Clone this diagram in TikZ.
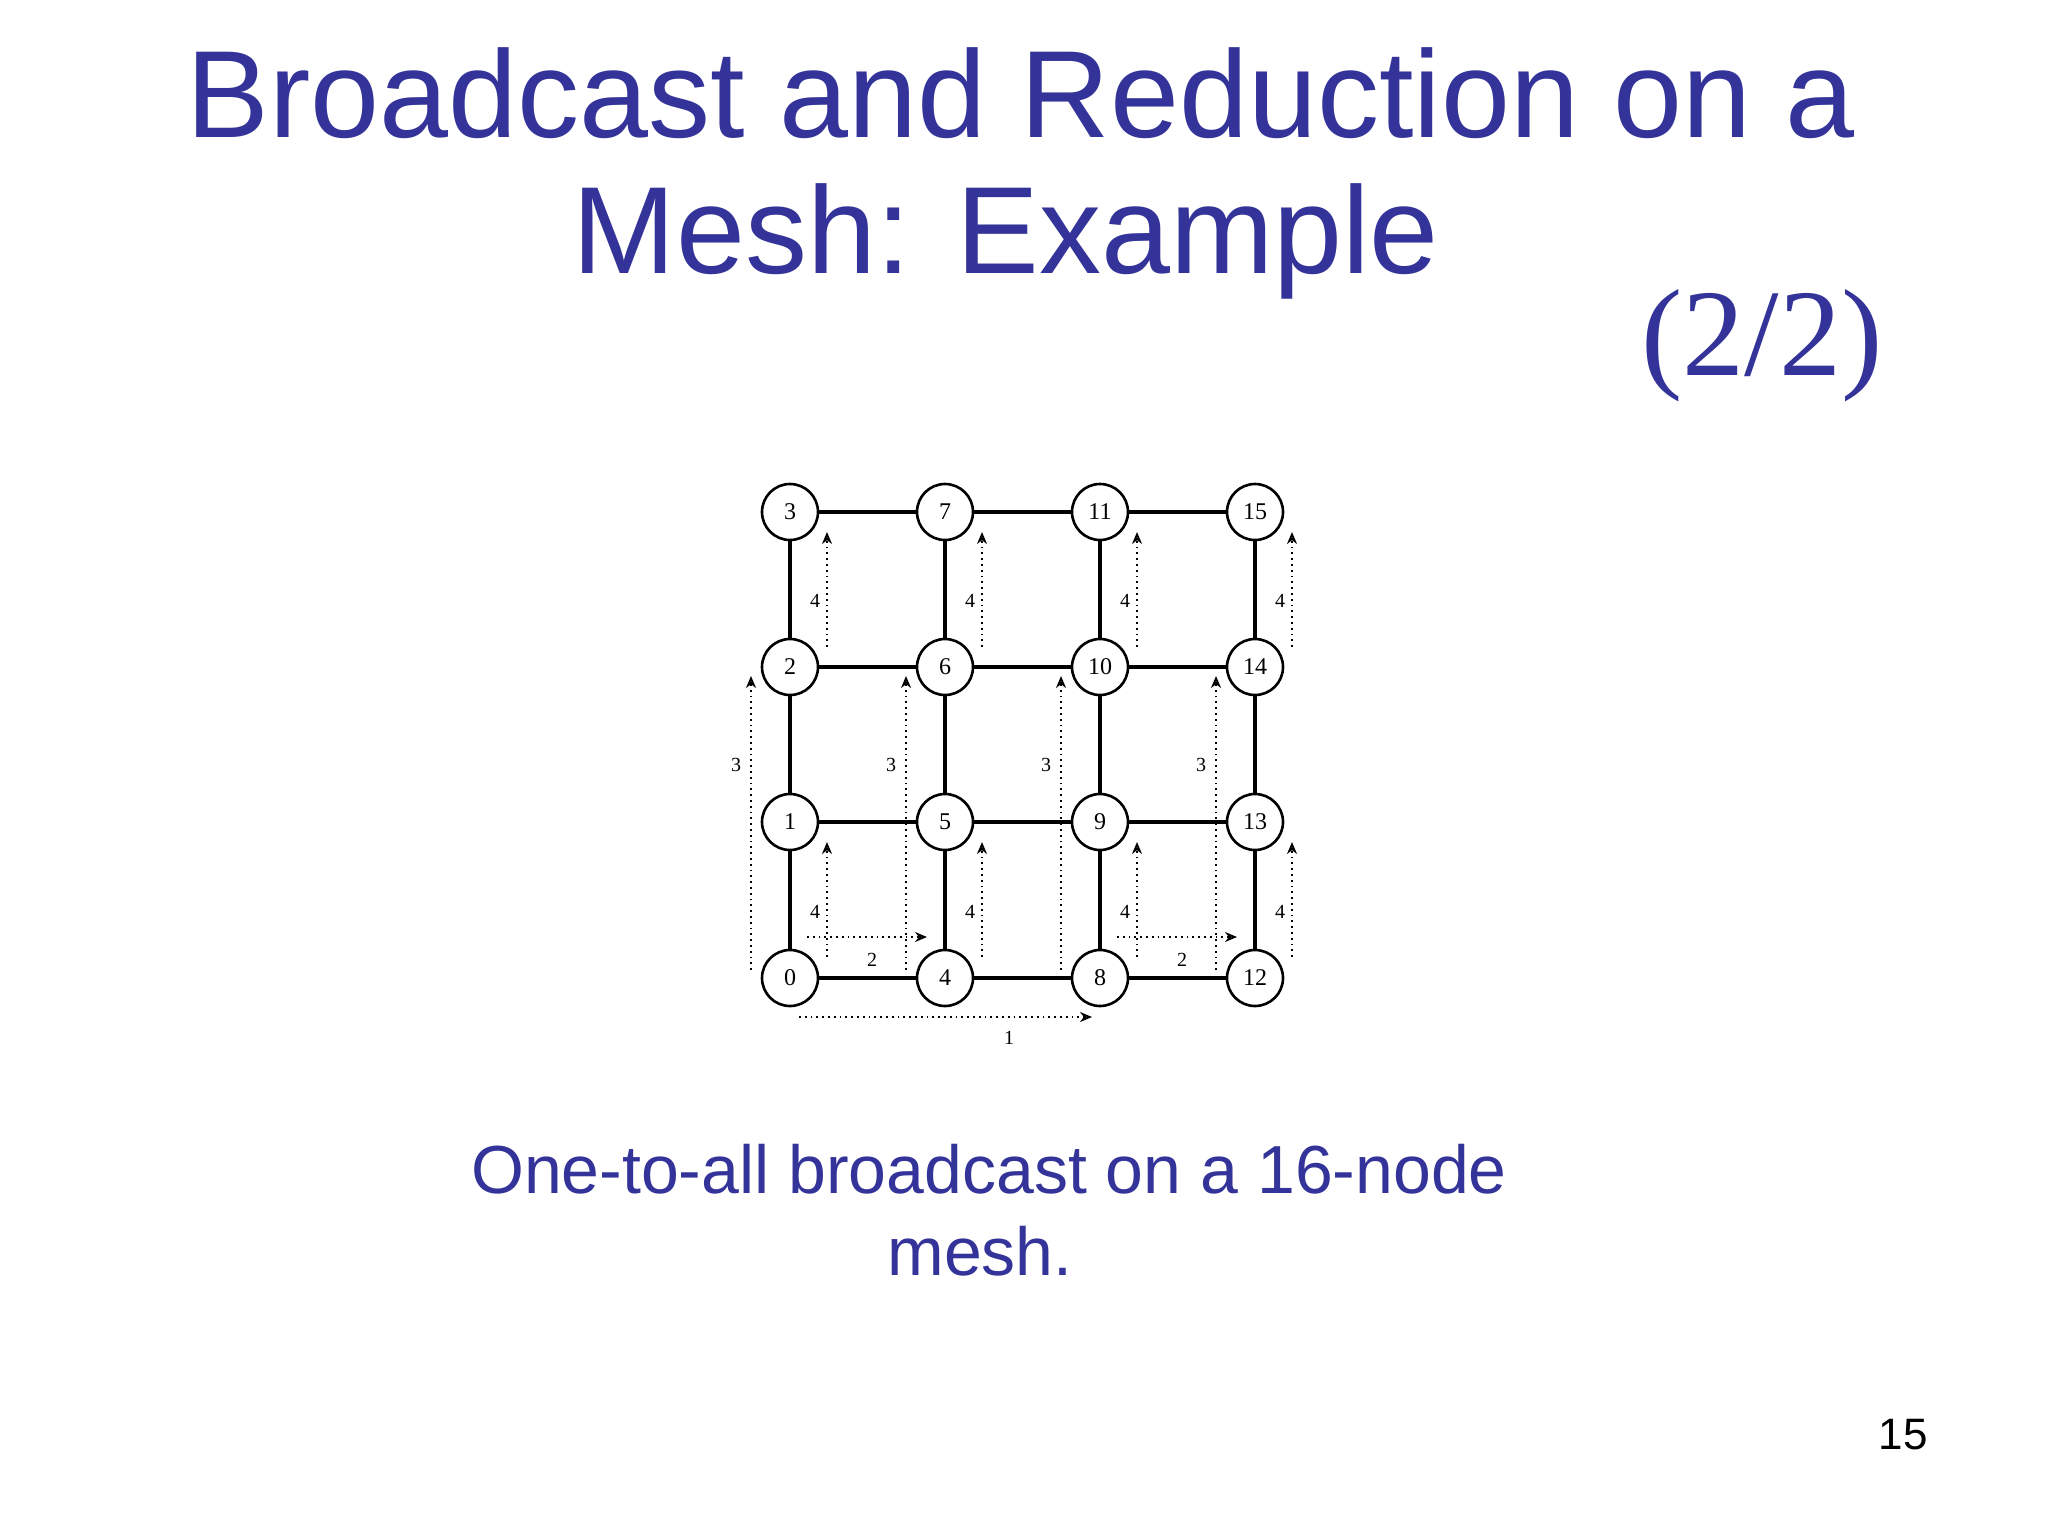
\documentclass[tikz,border=0pt]{standalone}
\usepackage{fontspec}
\setmainfont{Liberation Serif}
\newfontfamily\sansf{Liberation Sans}
\usetikzlibrary{arrows.meta}
\definecolor{ttl}{RGB}{51,51,153}
\tikzset{
  mnode/.style={circle,draw,line width=1.3pt,minimum size=28pt,inner sep=0pt,font=\fontsize{12}{12}\selectfont,fill=white},
  link/.style={line width=1.8pt},
  msg/.style={dotted,line width=0.9pt,-{Stealth[length=6pt,width=5pt,open]}},
  lbl/.style={font=\fontsize{10}{10}\selectfont}
}
\begin{document}
\begin{tikzpicture}[x={(0.5pt,0)},y={(0,-0.5pt)}]
\path[use as bounding box,fill=white] (0,0) rectangle (2048,1536);
\node[ttl,font=\sansf\fontsize{62}{62}\selectfont] (t1) at (1021,93) {Broadcast and Reduction on a};
\node[ttl,font=\sansf\fontsize{62}{62}\selectfont] (t2) at (1006,241) {Mesh: Example};
\node[ttl,font=\fontsize{62}{62}\selectfont] (t3) at (1762,346) {(2/2)};
% nodes
\foreach \c/\x in {0/790,1/945,2/1100,3/1255}{
 \foreach \r/\y in {0/978,1/822,2/667,3/512}{
  \pgfmathtruncatemacro\id{4*\c+\r}
  \node[mnode] (n\id) at (\x,\y) {\id};
 }}
% links
\foreach \c in {0,...,3}{
 \foreach \r/\s in {0/1,1/2,2/3}{
  \pgfmathtruncatemacro\a{4*\c+\r}\pgfmathtruncatemacro\b{4*\c+\s}
  \draw[link] (n\a) -- (n\b);
 }}
\foreach \r in {0,...,3}{
 \foreach \c/\d in {0/1,1/2,2/3}{
  \pgfmathtruncatemacro\a{4*\c+\r}\pgfmathtruncatemacro\b{4*\d+\r}
  \draw[link] (n\a) -- (n\b);
 }}
% messages
\coordinate (s1) at (799,1017); \coordinate (e1) at (1092,1017);
\draw[msg] (s1) -- (e1);
\node[lbl] (l1) at (1009,1038) {1};
\foreach \x/\n in {790/a,1100/b}{
  \coordinate (h\n s) at (\x+17,937); \coordinate (h\n e) at (\x+137,937);
  \draw[msg] (h\n s) -- (h\n e);
  \node[lbl] (h\n l) at (\x+82,960) {2};
}
\foreach \x/\n in {790/a,945/b,1100/c,1255/d}{
  \coordinate (v\n s) at (\x-39,970); \coordinate (v\n e) at (\x-39,676);
  \draw[msg] (v\n s) -- (v\n e);
  \node[lbl] (v\n l) at (\x-54,765) {3};
  \coordinate (p\n s) at (\x+37,957); \coordinate (p\n e) at (\x+37,842);
  \draw[msg] (p\n s) -- (p\n e);
  \node[lbl] (p\n l) at (\x+25,912) {4};
  \coordinate (q\n s) at (\x+37,647); \coordinate (q\n e) at (\x+37,532);
  \draw[msg] (q\n s) -- (q\n e);
  \node[lbl] (q\n l) at (\x+25,601) {4};
}
\node[ttl,font=\sansf\fontsize{34}{34}\selectfont] (c1) at (989,1169) {One-to-all broadcast on a 16-node};
\node[ttl,font=\sansf\fontsize{34}{34}\selectfont] (c2) at (980,1251) {mesh.};
\node[font=\sansf\fontsize{22}{22}\selectfont] (pg) at (1903,1435) {15};
\end{tikzpicture}
\end{document}
